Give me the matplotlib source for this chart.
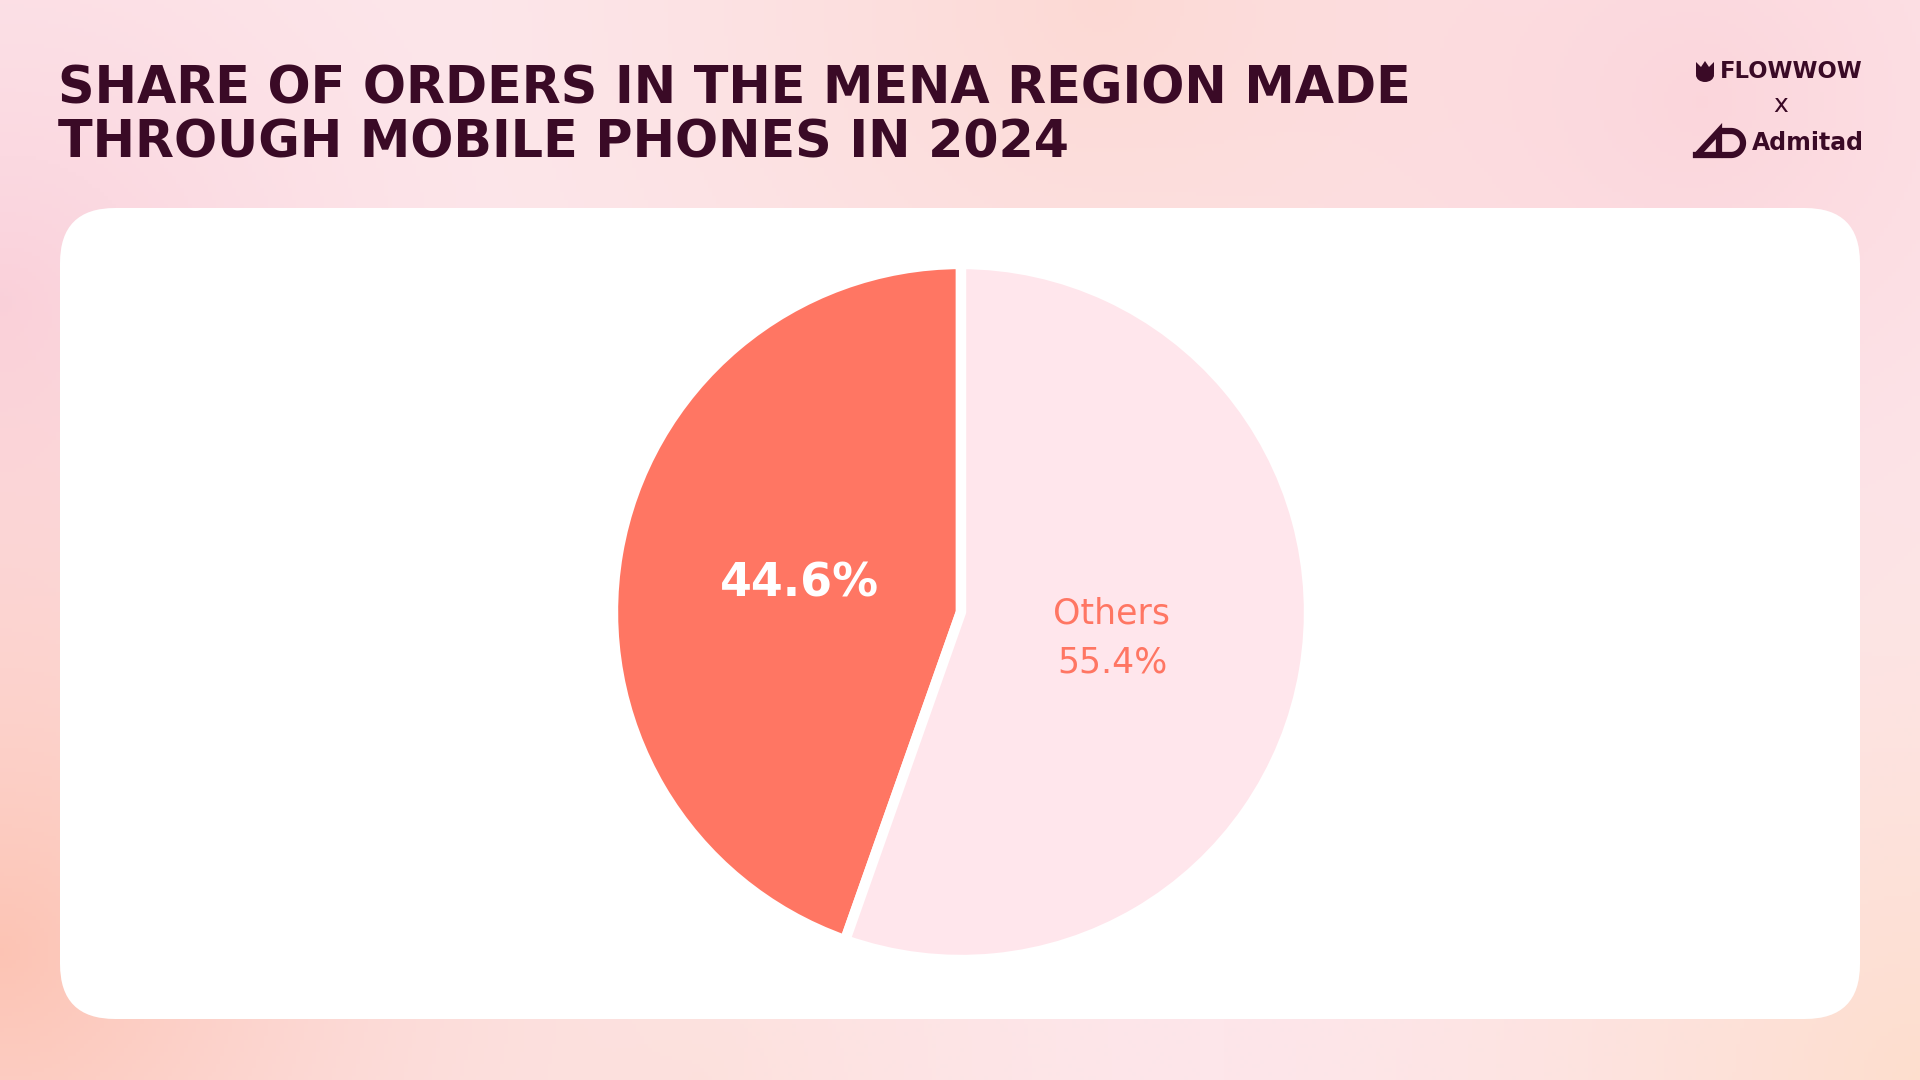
import numpy as np
import matplotlib
matplotlib.use("Agg")
import matplotlib.pyplot as plt
from matplotlib.patches import FancyBboxPatch, Polygon, Ellipse
from matplotlib.colors import to_rgb

# ---- data ----
title_lines = ["SHARE OF ORDERS IN THE MENA REGION MADE", "THROUGH MOBILE PHONES IN 2024"]
categories = ["Mobile", "Others"]
shares = [44.6, 55.4]
slice_colors = ["#FF7663", "#FFE6EC"]
label_names = ["", "Others"]

TITLE_COLOR = "#3A0A26"

W, H = 1920, 1080
fig = plt.figure(figsize=(19.2, 10.8), dpi=100)

# ---- background gradient ----
bg = fig.add_axes([0, 0, 1, 1])
bg.set_axis_off()
yy, xx = np.mgrid[0:H:4, 0:W:4]
base = np.array(to_rgb("#FDE6EA"))
img = np.ones(xx.shape + (3,)) * base
def blob(cx, cy, r, col, strength):
    global img
    d = np.sqrt((xx - cx) ** 2 + (yy - cy) ** 2) / r
    w = np.clip(1 - d, 0, 1) ** 1.5 * strength
    c = np.array(to_rgb(col))
    img = img * (1 - w[..., None]) + c * w[..., None]
blob(1100, 0, 700, "#FCD6CF", 0.8)
blob(1700, 100, 600, "#FBCFD6", 0.7)
blob(0, 300, 550, "#F9CCD8", 0.8)
blob(0, 950, 750, "#FCC0AE", 0.9)
blob(1920, 1080, 700, "#FDDCC6", 0.8)
blob(700, 1080, 500, "#FDDCD0", 0.5)
bg.imshow(img, extent=[0, W, 0, H], origin="upper", aspect="auto")
bg.set_xlim(0, W)
bg.set_ylim(0, H)

# ---- white card ----
card = FancyBboxPatch((60, H - 1019), 1800, 811, boxstyle="round,pad=0,rounding_size=55",
                      facecolor="white", edgecolor="none")
bg.add_patch(card)

# ---- title ----
bg.text(58, H - 103, title_lines[0], fontsize=36.5, fontweight="bold", color=TITLE_COLOR,
        family="DejaVu Sans", va="baseline", ha="left")
bg.text(58, H - 158, title_lines[1], fontsize=36.5, fontweight="bold", color=TITLE_COLOR,
        family="DejaVu Sans", va="baseline", ha="left")

# ---- logos ----
tx, ty = 1705, H - 72
bg.add_patch(Ellipse((tx, ty - 3), 18, 14, facecolor=TITLE_COLOR, edgecolor="none"))
bg.add_patch(Polygon([[tx - 9, ty - 2], [tx - 9, ty + 10], [tx - 4, ty + 5], [tx, ty + 11],
                      [tx + 4, ty + 5], [tx + 9, ty + 10], [tx + 9, ty - 2]],
                     closed=True, facecolor=TITLE_COLOR, edgecolor="none"))
bg.text(1720, H - 72, "FLOWWOW", fontsize=16.3, fontweight="heavy", color=TITLE_COLOR,
        family="DejaVu Sans", va="center", ha="left")
bg.text(1781, H - 105, "x", fontsize=18, color=TITLE_COLOR, family="DejaVu Sans",
        va="center", ha="center")
ax0, ay0 = 1697, H - 155
bg.plot([ax0, ax0 + 22, ax0 + 22], [ay0, ay0 + 24, ay0], color=TITLE_COLOR, lw=4.5,
        solid_joinstyle="miter", solid_capstyle="butt")
bg.plot([ax0 - 1, ax0 + 22], [ay0, ay0], color=TITLE_COLOR, lw=4.5)
th = np.linspace(-np.pi / 2, np.pi / 2, 40)
bg.plot(np.r_[ax0 + 28, ax0 + 34 + 12 * np.cos(th), ax0 + 28],
        np.r_[ay0 + 24, ay0 + 12 - 12 * np.sin(th), ay0], color=TITLE_COLOR, lw=4.5)
bg.text(1752, H - 143, "Admitad", fontsize=17, fontweight="bold", color=TITLE_COLOR,
        family="DejaVu Sans", va="center", ha="left")

# ---- pie ----
cx, cy, r = 961, 612, 355
pax = fig.add_axes([(cx - r) / W, (H - cy - r) / H, 2 * r / W, 2 * r / H])
wedges, _ = pax.pie(shares, colors=slice_colors, startangle=90, counterclock=True,
                    wedgeprops=dict(edgecolor="white", linewidth=7.5, joinstyle="round"))
pax.set_xlim(-1.02, 1.02)
pax.set_ylim(-1.02, 1.02)
pax.set_aspect("equal")
pax.set_axis_off()

total = sum(shares)
start = 90.0
for i, (name, val) in enumerate(zip(label_names, shares)):
    mid = np.deg2rad(start + 360 * val / total / 2)
    start += 360 * val / total
    if i == 0:
        d = 0.47
        pax.text(d * np.cos(mid), d * np.sin(mid), f"{val:.1f}%", fontsize=33,
                 fontweight="bold", color="white", ha="center", va="center")
    else:
        d = 0.44
        x, y = d * np.cos(mid), d * np.sin(mid)
        pax.text(x, y + 0.07, name, fontsize=25, color=slice_colors[0], ha="center", va="center")
        pax.text(x, y - 0.07, f"{val:.1f}%", fontsize=25, color=slice_colors[0],
                 ha="center", va="center")

fig.savefig("out.png", dpi=100)
